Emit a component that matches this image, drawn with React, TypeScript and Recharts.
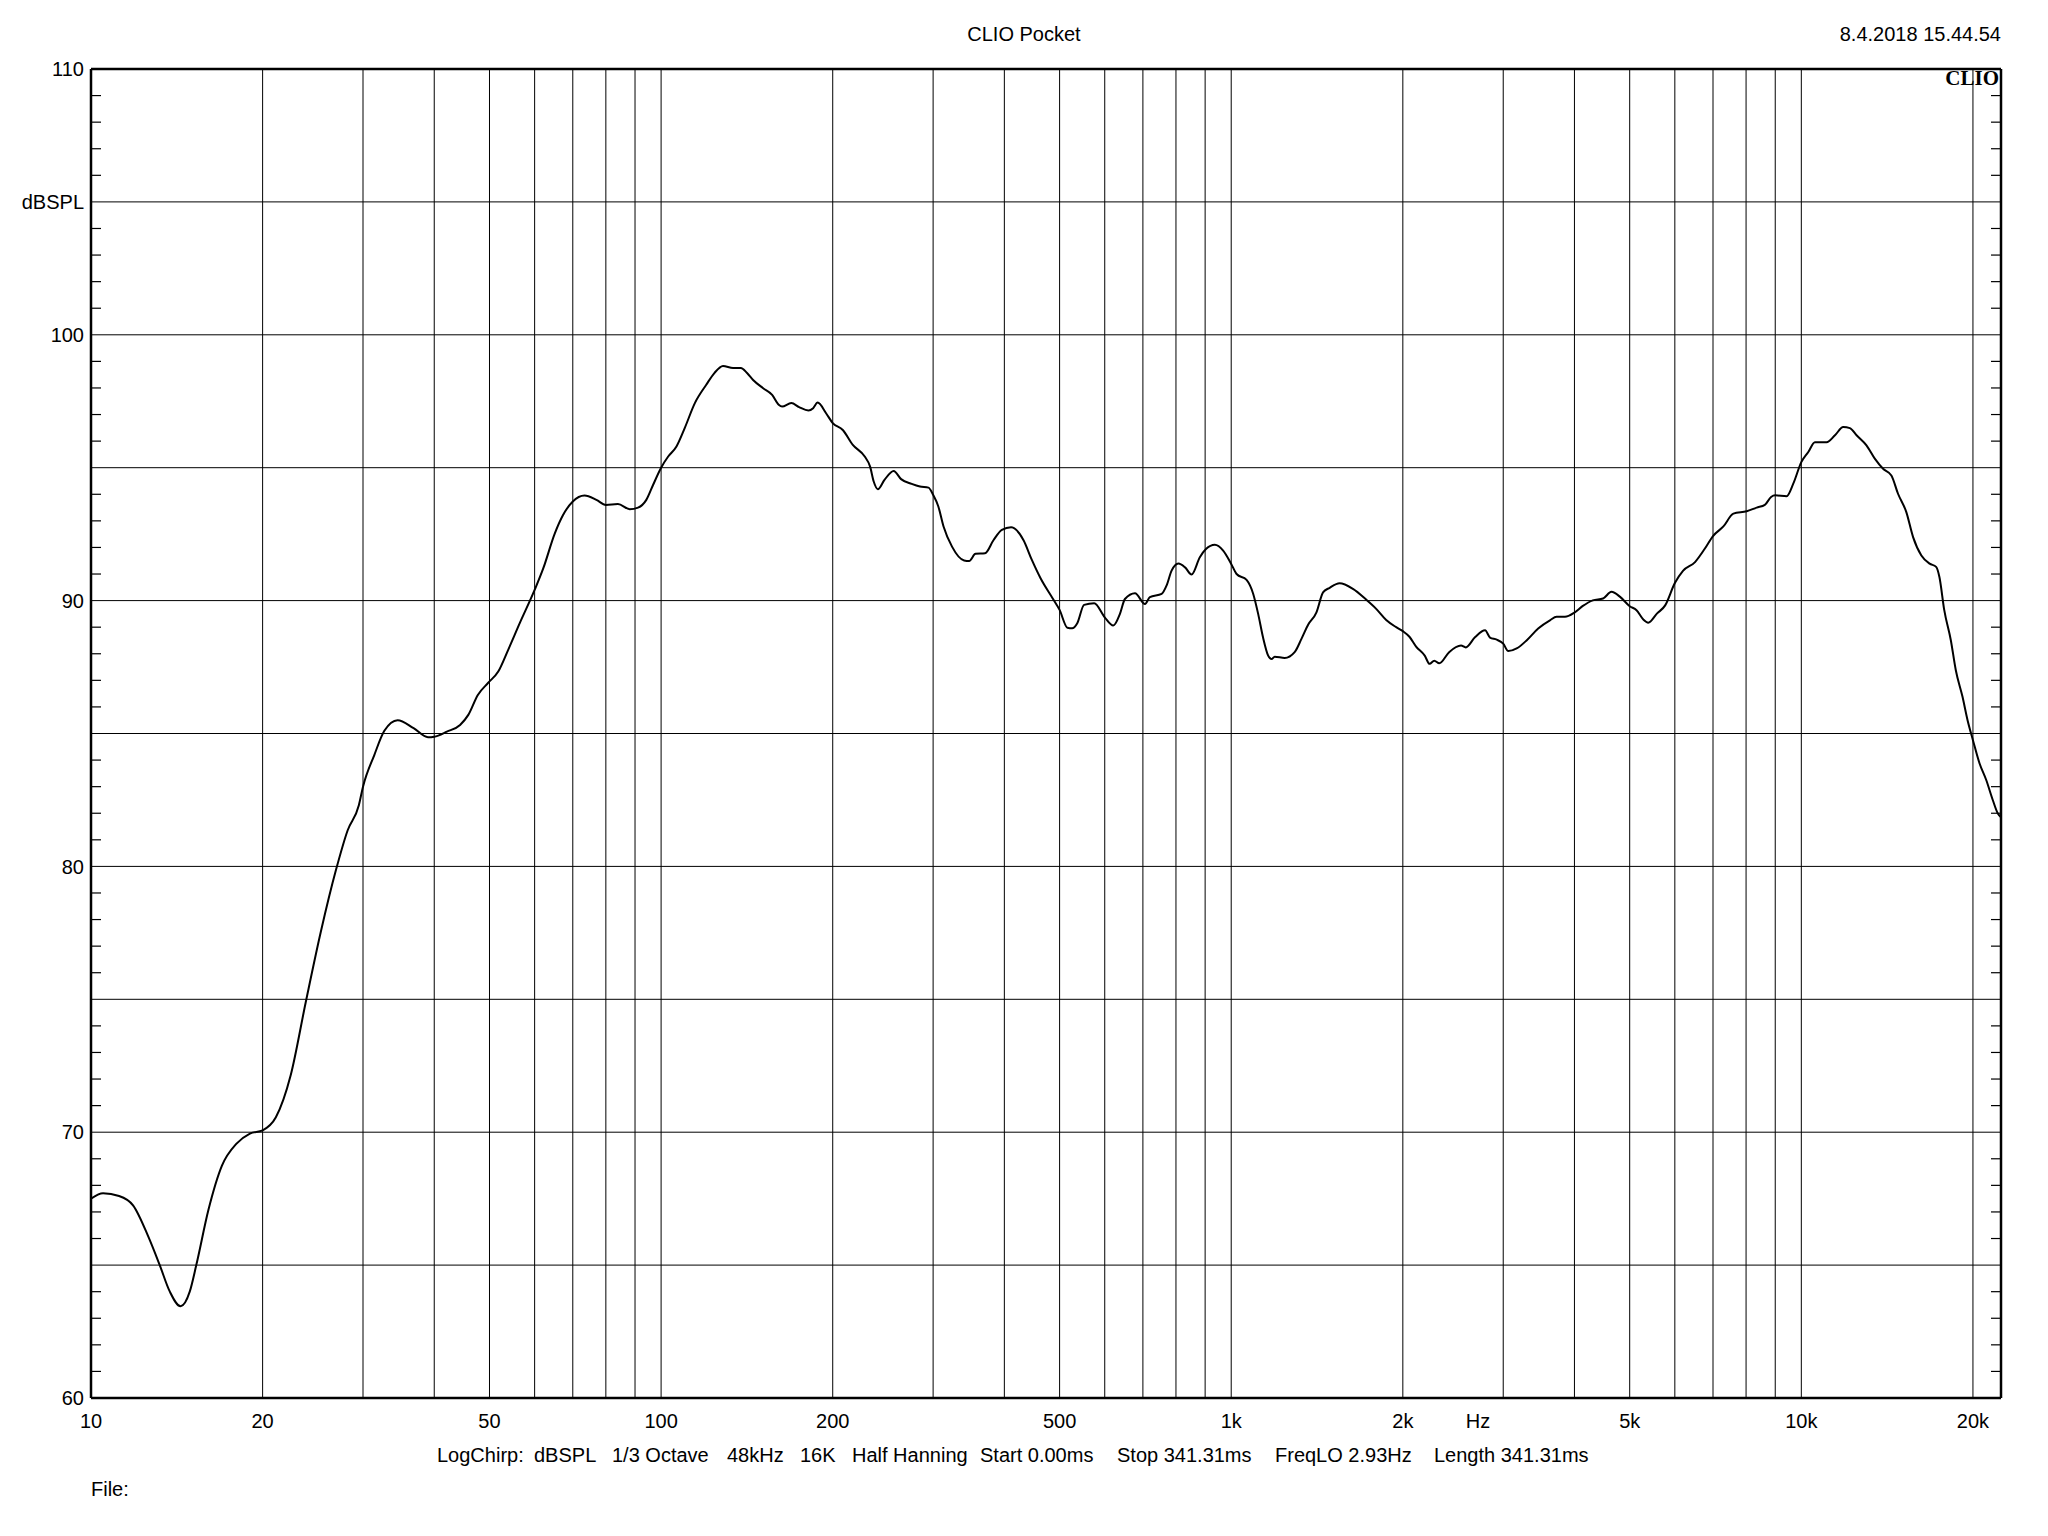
import { LineChart, Line, XAxis, YAxis, CartesianGrid } from 'recharts';

// frequency response
const freqHz = [
  10, 10.5, 11.2, 11.86, 12.6, 13.2, 13.75, 14.36, 14.9, 15.3,
  16.07, 16.97, 18, 19, 20, 21.1, 22.4, 23.8, 25.3, 26.9,
  28.2, 29.5, 30, 31.4, 32.7, 34.5, 36.8, 39, 40, 42.1,
  44.4, 45.9, 47.7, 49.7, 51.8, 53.9, 56.5, 60, 62.1, 65.1,
  67.3, 70, 73.4, 77, 80, 84, 88.1, 91.1, 94.2, 96.8,
  100, 102.9, 106.4, 110, 114.6, 120, 124, 128.4, 133.7, 138,
  141.5, 145, 151, 156.6, 160.8, 163, 169.2, 174.6, 181.3, 184.8,
  188.2, 194.7, 200, 208.3, 216.9, 227.6, 232.6, 236, 240, 246.5,
  255.8, 263.6, 275.1, 284.5, 294.4, 300, 306.4, 312.9, 323.8, 340,
  347, 356, 370, 383, 396, 411, 432, 447, 463, 486,
  500, 516, 526, 537, 552, 575, 600, 621, 638, 651,
  678, 706, 720, 755, 770, 786, 808, 830, 852, 881,
  903, 936, 968, 1000, 1022, 1064, 1093, 1115, 1137, 1161,
  1177, 1192, 1241, 1292, 1328, 1365, 1411, 1449, 1488, 1549,
  1635, 1726, 1796, 1870, 1947, 2000, 2054, 2110, 2185, 2228,
  2271, 2317, 2411, 2530, 2579, 2679, 2788, 2844, 2922, 3000,
  3062, 3167, 3300, 3455, 3623, 3722, 3850, 4000, 4132, 4307,
  4490, 4645, 4810, 5000, 5140, 5282, 5390, 5580, 5770, 6000,
  6200, 6510, 6770, 7000, 7300, 7600, 8020, 8350, 8630, 8850,
  9000, 9424, 9680, 10000, 10286, 10565, 11074, 11455, 11844, 12167,
  12500, 13010, 13455, 13913, 14387, 14778, 15282, 15705, 16239, 16793,
  17237, 17467, 17813, 18291, 18663, 19176, 19570, 20000, 20544, 21102,
  21675, 22118, 22400,
];

const splDb = [
  67.5, 67.7, 67.6, 67.24, 66.08, 65.0, 64.0, 63.45, 64.0, 65.0,
  67.08, 68.74, 69.57, 69.95, 70.07, 70.56, 72.14, 74.88, 77.54, 79.87,
  81.36, 82.3, 83.0, 84.19, 85.1, 85.5, 85.2, 84.86, 84.88, 85.07,
  85.32, 85.7, 86.45, 86.9, 87.33, 88.14, 89.15, 90.4, 91.2, 92.53,
  93.22, 93.73, 93.95, 93.79, 93.6, 93.63, 93.44, 93.5, 93.79, 94.35,
  95.0, 95.42, 95.8, 96.49, 97.43, 98.12, 98.56, 98.83, 98.75, 98.75,
  98.56, 98.3, 97.99, 97.74, 97.37, 97.3, 97.43, 97.28, 97.15, 97.24,
  97.45, 97.05, 96.68, 96.42, 95.86, 95.42, 95.04, 94.48, 94.19, 94.54,
  94.88, 94.57, 94.39, 94.29, 94.25, 93.98, 93.54, 92.79, 92.03, 91.51,
  91.49, 91.76, 91.78, 92.28, 92.66, 92.76, 92.28, 91.53, 90.84, 90.09,
  89.65, 88.98, 88.96, 89.15, 89.84, 89.9, 89.37, 89.06, 89.5, 90.06,
  90.28, 89.87, 90.13, 90.25, 90.56, 91.13, 91.4, 91.25, 90.98, 91.63,
  91.94, 92.1, 91.88, 91.38, 91.0, 90.78, 90.25, 89.5, 88.62, 87.93,
  87.8, 87.89, 87.84, 88.06, 88.56, 89.1, 89.56, 90.31, 90.48, 90.65,
  90.44, 90.03, 89.69, 89.27, 89.0, 88.85, 88.64, 88.27, 87.93, 87.62,
  87.74, 87.64, 88.06, 88.31, 88.24, 88.63, 88.88, 88.61, 88.53, 88.38,
  88.1, 88.2, 88.51, 88.95, 89.26, 89.39, 89.39, 89.55, 89.79, 90.01,
  90.08, 90.33, 90.14, 89.79, 89.64, 89.29, 89.17, 89.51, 89.82, 90.66,
  91.12, 91.45, 91.95, 92.43, 92.79, 93.27, 93.36, 93.5, 93.6, 93.9,
  93.96, 93.93, 94.4, 95.21, 95.59, 95.96, 95.96, 96.22, 96.53, 96.49,
  96.22, 95.84, 95.34, 94.96, 94.71, 94.02, 93.33, 92.39, 91.7, 91.39,
  91.27, 90.89, 89.64, 88.51, 87.38, 86.38, 85.5, 84.75, 83.87, 83.25,
  82.49, 81.99, 81.85,
];

const xTicks = [10, 20, 50, 100, 200, 500, 1000, 2000, 2710, 5000, 10000, 20000];
const xTickLabels = ['10', '20', '50', '100', '200', '500', '1k', '2k', 'Hz', '5k', '10k', '20k'];
const yTicks = [60, 70, 80, 90, 100, 105, 110];
const yTickLabels = ['60', '70', '80', '90', '100', 'dBSPL', '110'];
const yMinorTicks = [
  61, 62, 63, 64, 66, 67, 68, 69, 71, 72, 73, 74, 76, 77, 78, 79,
  81, 82, 83, 84, 86, 87, 88, 89, 91, 92, 93, 94, 96, 97, 98, 99,
  101, 102, 103, 104, 106, 107, 108, 109,
];
const xGrid = [
  20, 30, 40, 50, 60, 70, 80, 90, 100, 200, 300, 400, 500, 600, 700, 800, 900,
  1000, 2000, 3000, 4000, 5000, 6000, 7000, 8000, 9000, 10000, 20000,
];
const yGrid = [65, 70, 75, 80, 85, 90, 95, 100, 105];

const infoLabels = [
  'LogChirp:', 'dBSPL', '1/3 Octave', '48kHz', '16K', 'Half Hanning',
  'Start 0.00ms', 'Stop 341.31ms', 'FreqLO 2.93Hz', 'Length 341.31ms',
];
const infoLeft = [437, 534, 612, 727, 800, 852, 980, 1117, 1275, 1434];

const data = freqHz.map((f, i) => ({ f, spl: splDb[i] }));

const X_DOMAIN = [10, 22400];
const Y_DOMAIN = [60, 110];
const FONT = '"Liberation Sans", Arial, sans-serif';
const FRAME = { stroke: '#000', strokeWidth: 2.5 };
const MINOR_LEN = 10;

// short inward ticks on the frame, drawn from the tick anchor point
const LeftMinorTick = ({ x, y }: any) => (
  <line x1={x} x2={x + MINOR_LEN} y1={y} y2={y} stroke="#000" strokeWidth={1.2} />
);
const RightMinorTick = ({ x, y }: any) => (
  <line x1={x - MINOR_LEN} x2={x} y1={y} y2={y} stroke="#000" strokeWidth={1.2} />
);

const App = () => {
  return (
    <div
      style={{
        position: 'absolute',
        left: 0,
        top: 0,
        width: 2048,
        height: 1536,
        background: '#fff',
        fontFamily: FONT,
        color: '#000',
        overflow: 'hidden',
      }}
    >
      <div style={{ position: 'absolute', left: 0, top: 24, width: 2048, textAlign: 'center', fontSize: 20, lineHeight: '20px' }}>
        CLIO Pocket
      </div>
      <div style={{ position: 'absolute', right: 47, top: 24, fontSize: 20, lineHeight: '20px' }}>
        8.4.2018 15.44.54
      </div>

      {/* axes get 1px so they still render; margins make up the rest of the plot box 91..2001 x 69..1398 */}
      <LineChart
        width={2048}
        height={1536}
        data={data}
        margin={{ top: 68, right: 47, bottom: 137, left: 90 }}
      >
        <CartesianGrid
          stroke="#000"
          strokeWidth={1}
          horizontalValues={yGrid}
          verticalValues={xGrid}
        />
        <Line
          type="monotone"
          dataKey="spl"
          stroke="#000"
          strokeWidth={2}
          dot={false}
          activeDot={false}
          isAnimationActive={false}
        />
        <XAxis
          dataKey="f"
          type="number"
          scale="log"
          domain={X_DOMAIN}
          allowDataOverflow
          ticks={xTicks}
          interval={0}
          tickFormatter={(v) => xTickLabels[xTicks.indexOf(v)] ?? ''}
          height={1}
          tickSize={0}
          tickMargin={16}
          tickLine={false}
          axisLine={FRAME}
          tick={{ fill: '#000', fontSize: 20 }}
        />
        <XAxis
          xAxisId="top"
          orientation="top"
          dataKey="f"
          type="number"
          scale="log"
          domain={X_DOMAIN}
          allowDataOverflow
          ticks={[10]}
          height={1}
          tick={false}
          tickLine={false}
          axisLine={FRAME}
        />
        <YAxis
          type="number"
          domain={Y_DOMAIN}
          allowDataOverflow
          ticks={yTicks}
          interval={0}
          tickFormatter={(v) => yTickLabels[yTicks.indexOf(v)] ?? ''}
          width={1}
          tickSize={0}
          tickMargin={7}
          tickLine={false}
          axisLine={false}
          tick={{ fill: '#000', fontSize: 20 }}
        />
        <YAxis
          yAxisId="minorLeft"
          type="number"
          domain={Y_DOMAIN}
          allowDataOverflow
          ticks={yMinorTicks}
          interval={0}
          mirror
          width={1}
          tickSize={0}
          tickMargin={0}
          tickLine={false}
          tick={LeftMinorTick}
          axisLine={FRAME}
        />
        <YAxis
          yAxisId="minorRight"
          orientation="right"
          type="number"
          domain={Y_DOMAIN}
          allowDataOverflow
          ticks={yMinorTicks}
          interval={0}
          mirror
          width={1}
          tickSize={0}
          tickMargin={0}
          tickLine={false}
          tick={RightMinorTick}
          axisLine={FRAME}
        />
      </LineChart>

      <div
        style={{
          position: 'absolute',
          right: 49,
          top: 68,
          fontFamily: '"Liberation Serif", "DejaVu Serif", serif',
          fontWeight: 'bold',
          fontSize: 21,
          lineHeight: '21px',
        }}
      >
        CLIO
      </div>

      {infoLabels.map((t, i) => (
        <div
          key={t}
          style={{ position: 'absolute', left: infoLeft[i], top: 1445, fontSize: 20, lineHeight: '20px', whiteSpace: 'nowrap' }}
        >
          {t}
        </div>
      ))}
      <div style={{ position: 'absolute', left: 91, top: 1479, fontSize: 20, lineHeight: '20px' }}>File:</div>
    </div>
  );
};

export default App;
